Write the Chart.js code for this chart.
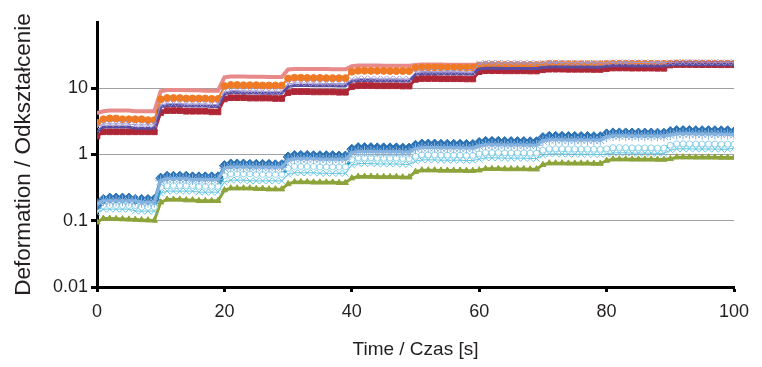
<!DOCTYPE html>
<html>
<head>
<meta charset="utf-8">
<script src="https://cdn.jsdelivr.net/npm/chart.js@4.4.1/dist/chart.umd.min.js"></script>
<style>
  html, body { margin: 0; padding: 0; background: #fff; }
  canvas { display: block; }
</style>
</head>
<body>
<canvas id="chart" width="762" height="367"></canvas>
<script>
// time in seconds, one reading per second
const seconds = [
  0, 1, 2, 3, 4, 5, 6, 7, 8, 9,
  10, 11, 12, 13, 14, 15, 16, 17, 18, 19,
  20, 21, 22, 23, 24, 25, 26, 27, 28, 29,
  30, 31, 32, 33, 34, 35, 36, 37, 38, 39,
  40, 41, 42, 43, 44, 45, 46, 47, 48, 49,
  50, 51, 52, 53, 54, 55, 56, 57, 58, 59,
  60, 61, 62, 63, 64, 65, 66, 67, 68, 69,
  70, 71, 72, 73, 74, 75, 76, 77, 78, 79,
  80, 81, 82, 83, 84, 85, 86, 87, 88, 89,
  90, 91, 92, 93, 94, 95, 96, 97, 98, 99,
  100
];

// upper group
const salmon = [
  4.2, 4.5, 4.6, 4.6, 4.6, 4.6, 4.5, 4.5, 4.5, 4.5,
  9.0, 9.4, 9.4, 9.4, 9.3, 9.3, 9.3, 9.2, 9.2, 9.2,
  14.6, 15.0, 15.0, 15.0, 14.9, 14.9, 14.9, 14.8, 14.8, 14.8,
  19.2, 19.6, 19.6, 19.6, 19.5, 19.5, 19.5, 19.4, 19.4, 19.4,
  21.6, 22.0, 22.0, 22.0, 22.0, 21.9, 21.9, 21.9, 21.9, 21.8,
  22.4, 22.8, 22.8, 22.8, 22.8, 22.7, 22.7, 22.7, 22.7, 22.7,
  22.8, 23.0, 23.0, 23.0, 23.0, 23.0, 22.9, 22.9, 22.9, 22.9,
  23.0, 23.2, 23.2, 23.2, 23.2, 23.1, 23.1, 23.1, 23.1, 23.1,
  23.3, 23.4, 23.4, 23.4, 23.4, 23.3, 23.3, 23.3, 23.3, 23.3,
  23.5, 23.6, 23.6, 23.6, 23.6, 23.5, 23.5, 23.5, 23.5, 23.5,
  23.5
];
const orange = [
  3.0, 3.4, 3.5, 3.5, 3.4, 3.4, 3.4, 3.4, 3.3, 3.3,
  6.8, 7.1, 7.1, 7.1, 7.0, 7.0, 7.0, 7.0, 6.9, 6.9,
  10.8, 11.2, 11.2, 11.1, 11.1, 11.1, 11.0, 11.0, 11.0, 11.0,
  14.0, 14.4, 14.4, 14.3, 14.3, 14.3, 14.2, 14.2, 14.2, 14.2,
  17.8, 18.4, 18.4, 18.3, 18.3, 18.3, 18.2, 18.2, 18.2, 18.2,
  20.2, 20.6, 20.6, 20.6, 20.5, 20.5, 20.5, 20.5, 20.4, 20.4,
  22.0, 22.6, 22.6, 22.6, 22.5, 22.5, 22.5, 22.5, 22.4, 22.4,
  22.8, 23.2, 23.2, 23.1, 23.1, 23.1, 23.1, 23.0, 23.0, 23.0,
  23.2, 23.5, 23.5, 23.5, 23.4, 23.4, 23.4, 23.4, 23.3, 23.3,
  23.4, 23.7, 23.7, 23.7, 23.6, 23.6, 23.6, 23.6, 23.5, 23.5,
  23.5
];
const lavender = [
  2.6, 2.9, 2.9, 2.9, 2.9, 2.9, 2.8, 2.8, 2.8, 2.8,
  5.6, 5.9, 5.9, 5.9, 5.8, 5.8, 5.8, 5.8, 5.7, 5.7,
  8.8, 9.2, 9.2, 9.1, 9.1, 9.1, 9.0, 9.0, 9.0, 9.0,
  11.6, 12.0, 12.0, 11.9, 11.9, 11.9, 11.8, 11.8, 11.8, 11.8,
  13.6, 14.0, 14.0, 14.0, 13.9, 13.9, 13.9, 13.9, 13.8, 13.8,
  17.4, 17.9, 17.9, 17.8, 17.8, 17.8, 17.8, 17.7, 17.7, 17.7,
  23.6, 24.2, 24.2, 24.2, 24.1, 24.1, 24.1, 24.1, 24.0, 24.0,
  24.0, 24.4, 24.4, 24.4, 24.3, 24.3, 24.3, 24.3, 24.2, 24.2,
  24.2, 24.6, 24.6, 24.6, 24.5, 24.5, 24.5, 24.5, 24.4, 24.4,
  24.4, 24.8, 24.8, 24.8, 24.7, 24.7, 24.7, 24.7, 24.6, 24.6,
  24.6
];
const purple = [
  2.2, 2.6, 2.6, 2.6, 2.6, 2.6, 2.5, 2.5, 2.5, 2.5,
  5.2, 5.5, 5.5, 5.5, 5.4, 5.4, 5.4, 5.4, 5.3, 5.3,
  8.2, 8.6, 8.6, 8.5, 8.5, 8.5, 8.4, 8.4, 8.4, 8.4,
  10.6, 11.0, 11.0, 11.0, 10.9, 10.9, 10.9, 10.9, 10.8, 10.8,
  12.8, 13.1, 13.1, 13.1, 13.0, 13.0, 13.0, 13.0, 12.9, 12.9,
  16.2, 16.6, 16.6, 16.6, 16.5, 16.5, 16.5, 16.5, 16.4, 16.4,
  19.6, 20.0, 20.0, 20.0, 19.9, 19.9, 19.9, 19.9, 19.8, 19.8,
  20.6, 21.0, 21.0, 21.0, 20.9, 20.9, 20.9, 20.9, 20.8, 20.8,
  21.4, 21.8, 21.8, 21.8, 21.7, 21.7, 21.7, 21.7, 21.6, 21.6,
  22.4, 22.8, 22.8, 22.8, 22.7, 22.7, 22.7, 22.7, 22.6, 22.6,
  22.6
];
const darkRed = [
  1.9, 2.2, 2.2, 2.2, 2.2, 2.2, 2.2, 2.2, 2.2, 2.2,
  4.3, 4.6, 4.6, 4.6, 4.5, 4.5, 4.5, 4.5, 4.4, 4.4,
  6.9, 7.2, 7.2, 7.2, 7.1, 7.1, 7.1, 7.1, 7.0, 7.0,
  8.6, 8.9, 8.9, 8.9, 8.8, 8.8, 8.8, 8.8, 8.7, 8.7,
  10.6, 11.0, 11.0, 11.0, 10.9, 10.9, 10.9, 10.9, 10.8, 10.8,
  13.6, 14.0, 14.0, 14.0, 13.9, 13.9, 13.9, 13.9, 13.8, 13.8,
  17.8, 18.4, 18.4, 18.4, 18.3, 18.3, 18.3, 18.3, 18.2, 18.2,
  19.0, 19.4, 19.4, 19.4, 19.3, 19.3, 19.3, 19.3, 19.2, 19.2,
  19.8, 20.2, 20.2, 20.2, 20.1, 20.1, 20.1, 20.1, 20.0, 20.0,
  22.4, 22.8, 22.8, 22.8, 22.7, 22.7, 22.7, 22.7, 22.6, 22.6,
  22.6
];

// lower group
const darkBlue = [
  0.17, 0.21, 0.22, 0.22, 0.22, 0.22, 0.21, 0.21, 0.21, 0.21,
  0.44, 0.47, 0.47, 0.47, 0.47, 0.46, 0.46, 0.46, 0.46, 0.46,
  0.68, 0.72, 0.72, 0.72, 0.71, 0.71, 0.71, 0.71, 0.70, 0.70,
  0.92, 0.97, 0.97, 0.97, 0.96, 0.96, 0.96, 0.96, 0.95, 0.95,
  1.20, 1.27, 1.27, 1.27, 1.26, 1.26, 1.26, 1.26, 1.25, 1.25,
  1.38, 1.44, 1.44, 1.44, 1.43, 1.43, 1.43, 1.43, 1.42, 1.42,
  1.52, 1.58, 1.58, 1.58, 1.57, 1.57, 1.57, 1.57, 1.56, 1.56,
  1.80, 1.88, 1.88, 1.88, 1.87, 1.87, 1.87, 1.87, 1.86, 1.86,
  2.05, 2.12, 2.12, 2.12, 2.11, 2.11, 2.11, 2.11, 2.10, 2.10,
  2.22, 2.30, 2.30, 2.30, 2.29, 2.29, 2.29, 2.29, 2.28, 2.28,
  2.20
];
const lightBlue = [
  0.18, 0.20, 0.20, 0.20, 0.20, 0.20, 0.20, 0.19, 0.19, 0.19,
  0.40, 0.43, 0.43, 0.43, 0.43, 0.42, 0.42, 0.42, 0.42, 0.42,
  0.62, 0.65, 0.65, 0.65, 0.65, 0.64, 0.64, 0.64, 0.64, 0.64,
  0.82, 0.86, 0.86, 0.86, 0.86, 0.85, 0.85, 0.85, 0.85, 0.85,
  1.06, 1.11, 1.11, 1.11, 1.10, 1.10, 1.10, 1.10, 1.09, 1.09,
  1.22, 1.27, 1.27, 1.27, 1.26, 1.26, 1.26, 1.26, 1.25, 1.25,
  1.34, 1.40, 1.40, 1.40, 1.39, 1.39, 1.39, 1.39, 1.38, 1.38,
  1.60, 1.67, 1.67, 1.67, 1.66, 1.66, 1.66, 1.66, 1.65, 1.65,
  1.85, 1.92, 1.92, 1.92, 1.91, 1.91, 1.91, 1.91, 1.90, 1.90,
  1.98, 2.05, 2.05, 2.05, 2.04, 2.04, 2.04, 2.04, 2.03, 2.03,
  2.00
];
const teal = [
  0.15, 0.17, 0.17, 0.17, 0.17, 0.17, 0.17, 0.16, 0.16, 0.16,
  0.32, 0.34, 0.34, 0.34, 0.34, 0.34, 0.33, 0.33, 0.33, 0.33,
  0.48, 0.51, 0.51, 0.51, 0.51, 0.50, 0.50, 0.50, 0.50, 0.50,
  0.62, 0.66, 0.66, 0.66, 0.66, 0.65, 0.65, 0.65, 0.65, 0.65,
  0.84, 0.89, 0.89, 0.89, 0.88, 0.88, 0.88, 0.88, 0.87, 0.87,
  0.94, 0.99, 0.99, 0.99, 0.98, 0.98, 0.98, 0.98, 0.97, 0.97,
  1.02, 1.07, 1.07, 1.07, 1.06, 1.06, 1.06, 1.06, 1.05, 1.05,
  1.16, 1.22, 1.22, 1.22, 1.21, 1.21, 1.21, 1.21, 1.20, 1.20,
  1.22, 1.27, 1.27, 1.27, 1.26, 1.26, 1.26, 1.26, 1.25, 1.25,
  1.38, 1.45, 1.45, 1.45, 1.44, 1.44, 1.44, 1.44, 1.43, 1.43,
  1.43
];
const cyan = [
  0.13, 0.15, 0.15, 0.15, 0.15, 0.15, 0.14, 0.14, 0.14, 0.14,
  0.26, 0.28, 0.28, 0.28, 0.28, 0.28, 0.27, 0.27, 0.27, 0.27,
  0.38, 0.41, 0.41, 0.41, 0.40, 0.40, 0.40, 0.40, 0.40, 0.40,
  0.50, 0.53, 0.53, 0.53, 0.53, 0.52, 0.52, 0.52, 0.52, 0.52,
  0.69, 0.73, 0.73, 0.73, 0.72, 0.72, 0.72, 0.72, 0.71, 0.71,
  0.79, 0.83, 0.83, 0.83, 0.82, 0.82, 0.82, 0.82, 0.81, 0.81,
  0.85, 0.89, 0.89, 0.89, 0.88, 0.88, 0.88, 0.88, 0.87, 0.87,
  0.97, 1.02, 1.02, 1.02, 1.01, 1.01, 1.01, 1.01, 1.00, 1.00,
  1.02, 1.06, 1.06, 1.06, 1.05, 1.05, 1.05, 1.05, 1.04, 1.04,
  1.16, 1.22, 1.22, 1.22, 1.21, 1.21, 1.21, 1.21, 1.20, 1.20,
  1.25
];
const green = [
  0.095, 0.108, 0.108, 0.107, 0.106, 0.105, 0.104, 0.103, 0.102, 0.101,
  0.19, 0.21, 0.21, 0.21, 0.205, 0.205, 0.20, 0.20, 0.20, 0.20,
  0.29, 0.31, 0.31, 0.31, 0.31, 0.305, 0.305, 0.30, 0.30, 0.30,
  0.36, 0.385, 0.385, 0.385, 0.38, 0.38, 0.38, 0.38, 0.375, 0.375,
  0.44, 0.465, 0.465, 0.465, 0.46, 0.46, 0.46, 0.46, 0.455, 0.455,
  0.55, 0.58, 0.58, 0.58, 0.575, 0.575, 0.575, 0.575, 0.57, 0.57,
  0.58, 0.61, 0.61, 0.61, 0.605, 0.605, 0.605, 0.605, 0.60, 0.60,
  0.70, 0.74, 0.74, 0.74, 0.735, 0.735, 0.735, 0.735, 0.73, 0.73,
  0.81, 0.85, 0.85, 0.85, 0.845, 0.845, 0.845, 0.845, 0.84, 0.84,
  0.86, 0.91, 0.91, 0.91, 0.905, 0.905, 0.905, 0.905, 0.90, 0.90,
  0.90
];

const xTicks = [0, 20, 40, 60, 80, 100];
const yTicks = [0.01, 0.1, 1, 10, 100];
const yTickLabels = ['0.01', '0.1', '1', '10', ''];
const yGridAt = [0.1, 1, 10];

const fontFamily = "'Liberation Sans', Arial, sans-serif";
const textColor = '#231f20';

function series(data, color, style) {
  //one line per specimen, points on every second
  return Object.assign({
    data: data.map(function(v, i) { return { x: seconds[i], y: v }; }),
    borderColor: color,
    backgroundColor: color,
    pointBorderColor: color,
    pointBackgroundColor: color,
    borderWidth: 2,
    pointRadius: 3,
    pointBorderWidth: 1,
    tension: 0
  }, style);
}

const datasets = [
  series(lavender, '#a197d2', { borderWidth: 1, pointStyle: 'crossRot', pointRadius: 4 }),
  series(purple, '#5a4c9f', { borderWidth: 3, pointRadius: 0 }),
  series(darkRed, '#ae2736', { borderWidth: 3, pointStyle: 'rect', pointRadius: 4 }),
  series(orange, '#ef7a26', { borderWidth: 2, pointStyle: 'circle', pointRadius: 3.5 }),
  series(salmon, '#e88a8a', { borderWidth: 4, pointRadius: 0 }),
  series(lightBlue, '#86b3df', { borderWidth: 3, pointStyle: 'star', pointRadius: 5.5, pointBorderWidth: 1 }),
  series(darkBlue, '#2b72b4', { borderWidth: 2, pointStyle: 'rectRot', pointRadius: 5 }),
  series(teal, '#1e9bbf', { borderWidth: 3, pointStyle: 'circle', pointRadius: 3, pointBackgroundColor: '#ffffff', pointBorderColor: '#8fd3ea' }),
  series(cyan, '#67c6e3', { borderWidth: 1, pointStyle: 'crossRot', pointRadius: 4.5 }),
  series(green, '#8ca43a', { borderWidth: 3, pointStyle: 'triangle', pointRadius: 3.5 })
];

const ctx = document.getElementById('chart');
new Chart(ctx, {
  type: 'line',
  data: { datasets: datasets },
  options: {
    responsive: false,
    animation: false,
    devicePixelRatio: 1,
    layout: { padding: { left: 0, right: 28, top: 22, bottom: 0 } },
    plugins: {
      legend: { display: false },
      tooltip: { enabled: false }
    },
    scales: {
      x: {
        type: 'linear',
        min: 0,
        max: 100,
        afterBuildTicks: function(scale) {
          scale.ticks = xTicks.map(function(v) { return { value: v }; });
        },
        afterFit: function(scale) { scale.height = 80; },
        border: { color: '#000', width: 3 },
        grid: {
          drawOnChartArea: false,
          drawTicks: true,
          tickLength: 5,
          tickWidth: 3,
          tickColor: '#000'
        },
        ticks: {
          color: textColor,
          font: { family: fontFamily, size: 18 },
          padding: 9,
          maxRotation: 0
        },
        title: {
          display: true,
          text: 'Time / Czas [s]',
          color: textColor,
          font: { family: fontFamily, size: 19 },
          padding: { top: 10, bottom: 6 }
        }
      },
      y: {
        type: 'logarithmic',
        min: 0.01,
        max: 100,
        afterBuildTicks: function(scale) {
          scale.ticks = yTicks.map(function(v) { return { value: v }; });
        },
        afterFit: function(scale) { scale.width = 97; },
        border: { color: '#000', width: 3 },
        grid: {
          color: function(c) {
            return c.tick && yGridAt.indexOf(c.tick.value) >= 0 ? '#a0a0a0' : 'rgba(0,0,0,0)';
          },
          lineWidth: 1,
          drawTicks: true,
          tickLength: 6,
          tickWidth: 3,
          tickColor: function(c) {
            return c.tick && c.tick.value === 100 ? 'rgba(0,0,0,0)' : '#000';
          }
        },
        ticks: {
          color: textColor,
          font: { family: fontFamily, size: 18 },
          padding: 3,
          callback: function(value, index) { return yTickLabels[index]; }
        },
        title: {
          display: true,
          text: 'Deformation / Odkształcenie',
          color: textColor,
          font: { family: fontFamily, size: 22.5 },
          padding: { top: 10, bottom: 0 }
        }
      }
    }
  }
});
</script>
</body>
</html>
